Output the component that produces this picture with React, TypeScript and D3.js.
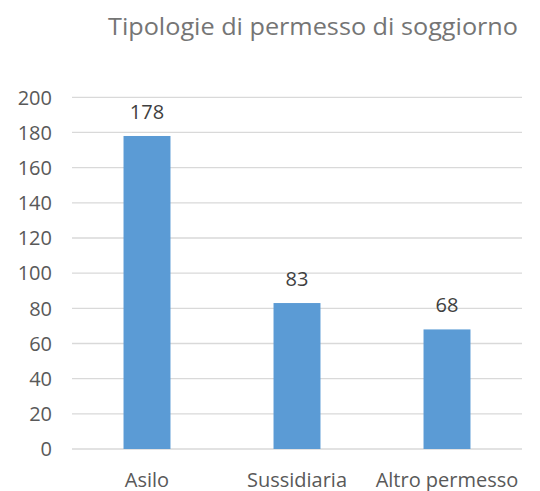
import React from "react";
import * as d3 from "d3";

const categories = ["Asilo", "Sussidiaria", "Altro permesso"];
const values = [178, 83, 68];
const yTicks = [0, 20, 40, 60, 80, 100, 120, 140, 160, 180, 200];
const title = "Tipologie di permesso di soggiorno";

export default function App() {
  const W = 540, H = 491;
  const left = 72, right = 522, top = 97.3, bottom = 449;
  const x = d3.scaleBand<string>().domain(categories).range([left, right]).paddingInner(0.687).paddingOuter(0.3435);
  const y = d3.scaleLinear().domain([0, 200]).range([bottom, top]);
  const font = "'Open Sans', sans-serif";
  return (
    <svg width={W} height={H} style={{ position: "absolute", left: 0, top: 0 }} fontFamily={font}>
      <rect width={W} height={H} fill="#fff" />
      <text x={313} y={35} textAnchor="middle" fontSize={24.5} fill="#757575" textLength={410} lengthAdjust="spacingAndGlyphs">{title}</text>
      {yTicks.map(t => (
        <g key={t}>
          <line x1={left} x2={right} y1={y(t)} y2={y(t)} stroke="#d9d9d9" strokeWidth={1.3} />
          <text x={52} y={y(t)} dy="0.36em" textAnchor="end" fontSize={20} fill="#595959">{t}</text>
        </g>
      ))}
      {categories.map((c, i) => (
        <g key={c}>
          <rect x={x(c)} y={y(values[i])} width={x.bandwidth()} height={y(0) - y(values[i])} fill="#5b9bd5" />
          <text x={x(c)! + x.bandwidth() / 2} y={y(values[i]) - 17} textAnchor="middle" fontSize={20} fill="#404040">{values[i]}</text>
          <text x={x(c)! + x.bandwidth() / 2} y={486.5} textAnchor="middle" fontSize={20} fill="#595959">{c}</text>
        </g>
      ))}
    </svg>
  );
}
